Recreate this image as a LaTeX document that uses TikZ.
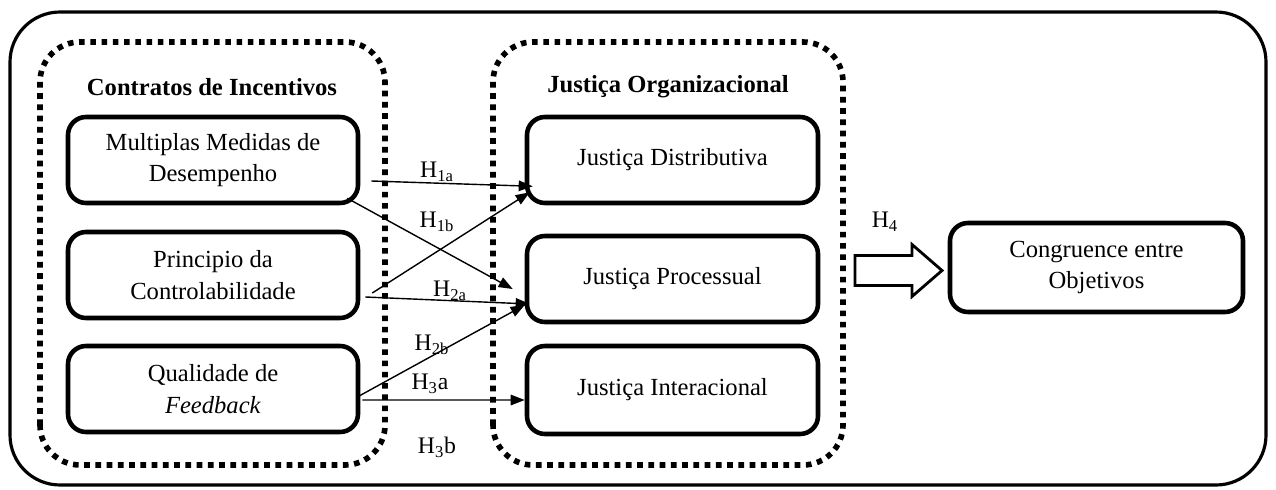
\documentclass[tikz,border=0pt]{standalone}
\usepackage{fontspec}
\setmainfont{Liberation Serif}
\usetikzlibrary{arrows.meta, positioning, calc}

\begin{document}
\begin{tikzpicture}[
    box/.style={draw, line width=2.6pt, rounded corners=0.36cm,
                minimum width=5.8cm, minimum height=1.72cm,
                align=center, font=\fontsize{14}{18}\selectfont},
    region/.style={line width=3.2pt, dash pattern=on 3.2pt off 3.2pt,
                   rounded corners=0.8cm},
    hlabel/.style={font=\fontsize{13.5}{15}\selectfont},
    title/.style={font=\fontsize{14}{16}\selectfont\bfseries},
    link/.style={-{Triangle[length=8pt, width=6pt]}, line width=0.8pt}]

    \useasboundingbox (0,0) rectangle (25.52,9.78);

    % --- outer frame and the two dotted groups
    \draw[line width=1.8pt, rounded corners=1cm] (0.2,0.08) rectangle (25.32,9.54);
    \draw[region] (0.8,0.48) rectangle (7.7,8.94);
    \draw[region] (9.86,0.48) rectangle (16.86,8.94);

    \node[title] (tcontr) at (4.24,8.04) {Contratos de Incentivos};
    \node[title] (tjust) at (13.36,8.04) {Justiça Organizacional};

    % --- incentive contracts
    \node[box] (mult) at (4.26,6.58) {Multiplas Medidas de\\Desempenho};
    \node[box] (princ) at (4.26,4.28) {Principio da\\Controlabilidade};
    \node[box] (qual) at (4.26,2.0) {Qualidade de\\\textit{Feedback}};

    % --- organisational justice
    \node[box, minimum width=5.82cm] (dist) at (13.45,6.58) {Justiça Distributiva};
    \node[box, minimum width=5.82cm] (proc) at (13.45,4.2) {Justiça Processual};
    \node[box, minimum width=5.82cm, minimum height=1.76cm] (inter) at (13.45,1.98) {Justiça Interacional};

    % --- goal congruence
    \node[box, minimum width=5.86cm, minimum height=1.78cm] (congr) at (21.93,4.43) {Congruence entre\\Objetivos};

    % --- hypotheses
    \draw[link] ($(mult.east)+(0.22,-0.42)$) -- ($(dist.south west)+(0.16,0.38)$);
    \draw[link] ($(mult.south east)+(-0.26,0.14)$) -- ($(proc.west)+(-0.24,-0.2)$);
    \draw[link] ($(princ.east)+(0.24,-0.36)$) -- ($(dist.south west)+(0.1,0.26)$);
    \draw[link] ($(princ.east)+(0.1,-0.44)$) -- ($(proc.west)+(0.1,-0.5)$);
    \draw[link] ($(qual.east)+(-0.06,-0.16)$) -- ($(proc.west)+(0,-0.52)$);
    \draw[link] ($(qual.east)+(0.04,-0.22)$) -- ($(inter.west)+(0,-0.2)$);

    \node[hlabel] (h1a) at (8.74,6.34) {H\textsubscript{1a}};
    \node[hlabel] (h1b) at (8.74,5.34) {H\textsubscript{1b}};
    \node[hlabel] (h2a) at (9.0,3.96) {H\textsubscript{2a}};
    \node[hlabel] (h2b) at (8.64,2.88) {H\textsubscript{2b}};
    \node[hlabel] (h3a) at (8.6,2.1) {H\textsubscript{3}a};
    \node[hlabel] (h3b) at (8.74,0.84) {H\textsubscript{3}b};

    % --- H4 block arrow
    \draw[line width=1.6pt, miter limit=10]
        (17.1,4.67) -- (18.24,4.67) -- (18.24,4.89) -- (18.84,4.37)
        -- (18.24,3.85) -- (18.24,4.07) -- (17.1,4.07) -- cycle;
    \node[hlabel] (h4) at (17.7,5.34) {H\textsubscript{4}};
\end{tikzpicture}
\end{document}
